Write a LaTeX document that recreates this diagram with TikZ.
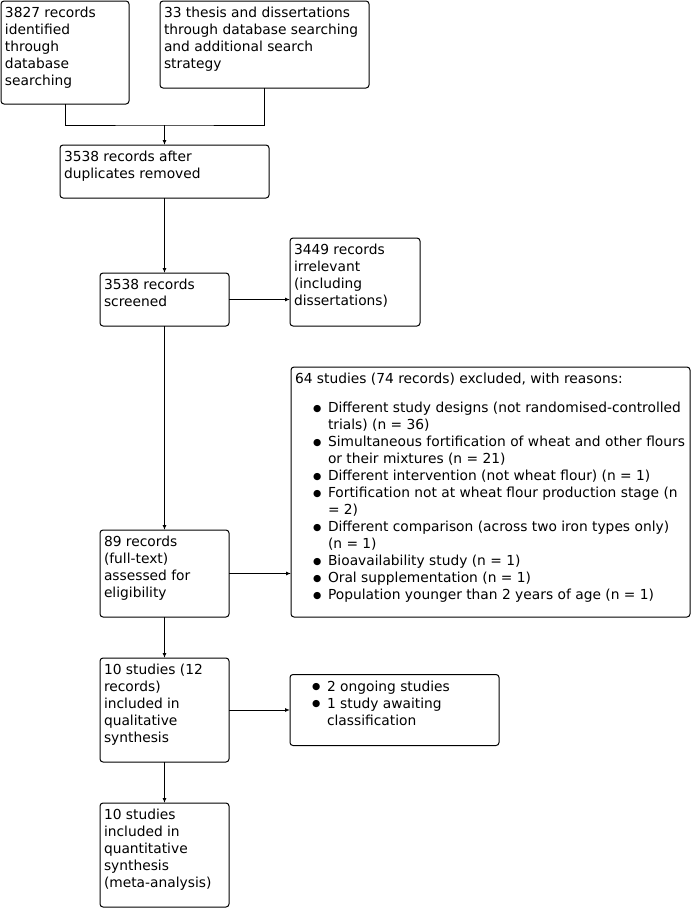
\documentclass[tikz,border=0pt]{standalone}
\usepackage{fontspec}
\setmainfont{DejaVu Sans}
\usetikzlibrary{positioning,arrows.meta}

% text block of a box: outer width, outer height, text
\newcommand{\boxtext}[3]{\parbox[t][\dimexpr#2pt-10pt\relax][t]{\dimexpr#1pt-8pt\relax}{\raggedright\strut#3}}
% bulleted line with hanging indent
\newcommand{\bitem}[1]{\hangindent=33pt\hangafter=1\noindent\makebox[33pt][l]{\hspace{18pt}\raisebox{1.5pt}{\fontsize{9.5}{9.5}\selectfont ●}}#1\par}

\begin{document}
\begin{tikzpicture}[
        x=1pt, y=1pt,
        font=\fontsize{13.8}{17}\selectfont,
        >={Latex[length=5pt,width=4pt]},
        box/.style={rectangle, rounded corners=3pt, draw=black, line width=1pt, inner xsep=4pt, inner ysep=5pt, outer sep=0pt, anchor=north west},
        line/.style={line width=1pt},
        arrow/.style={->, line width=1pt}
    ]
    \useasboundingbox (0,0) rectangle (694,-908);

    \node[box] (a) at (1,-1) {\boxtext{128}{103}{3827 records\\identified\\through\\database\\searching}};
    \node[box] (b) at (160,-1) {\boxtext{209}{87}{33 thesis and dissertations\\through database searching\\and additional search\\strategy}};
    \node[box] (c) at (60,-145) {\boxtext{209}{53}{3538 records after\\duplicates removed}};
    \node[box, below=75pt of c] (d) {\boxtext{129}{53}{3538 records\\screened}};
    \node[box, below=204pt of d] (g) {\boxtext{129}{87}{89 records\\(full-text)\\assessed for\\eligibility}};
    \node[box, below=41pt of g] (h) {\boxtext{129}{104}{10 studies (12\\records)\\included in\\qualitative\\synthesis}};
    \node[box, below=41pt of h] (j) {\boxtext{129}{104}{10 studies\\included in\\quantitative\\synthesis\\(meta-analysis)}};

    \node[box, right=61pt of d.south east, anchor=south west] (e) {\boxtext{130}{88}{3449 records\\irrelevant\\(including\\dissertations)}};
    \node[box, right=62pt of g.south east, anchor=south west] (f) {\boxtext{399}{250}{64 studies (74 records) excluded, with reasons:\par\vspace{12pt}
        \bitem{Different study designs (not randomised-controlled\newline trials) (n = 36)}
        \bitem{Simultaneous fortification of wheat and other flours\newline or their mixtures (n = 21)}
        \bitem{Different intervention (not wheat flour) (n = 1)}
        \bitem{Fortification not at wheat flour production stage (n\newline = 2)}
        \bitem{Different comparison (across two iron types only)\newline (n = 1)}
        \bitem{Bioavailability study (n = 1)}
        \bitem{Oral supplementation (n = 1)}
        \bitem{Population younger than 2 years of age (n = 1)}}};
    \node[box, right=61pt of h] (i) {\boxtext{209}{71}{\bitem{2 ongoing studies}\bitem{1 study awaiting\newline classification}}};

    \coordinate[above=20pt of c.north] (join);
    \draw[line] (a.south) |- (join) -| (b.south);
    \draw[arrow] (join) -- (c);
    \draw[arrow] (c) -- (d);
    \draw[arrow] (d.east) -- (d.east -| e.west);
    \draw[arrow] (d) -- (g);
    \draw[arrow] (g.east) -- (g.east -| f.west);
    \draw[arrow] (g) -- (h);
    \draw[arrow] (h) -- (i);
    \draw[arrow] (h) -- (j);

\end{tikzpicture}
\end{document}
